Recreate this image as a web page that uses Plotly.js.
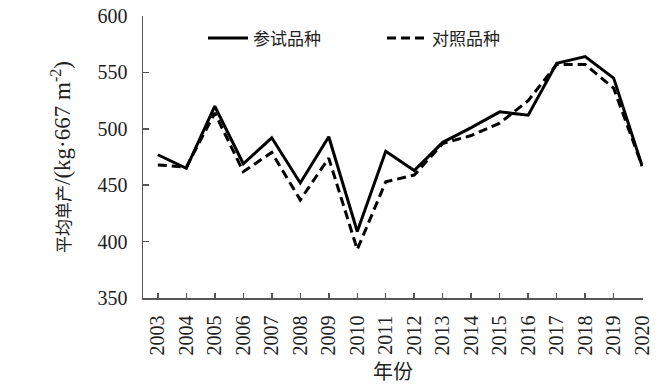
<!DOCTYPE html>
<html>
<head>
<meta charset="utf-8">
<script src="https://cdn.plot.ly/plotly-3.0.1.min.js"></script>
<style>html,body{margin:0;padding:0;background:#fff;}#chart{width:671px;height:386px;}</style>
</head>
<body>
<div id="chart"></div>
<script>
var years = [2003,2004,2005,2006,2007,2008,2009,2010,2011,2012,2013,2014,2015,2016,2017,2018,2019,2020];
var yearLabels = years.map(String);
var testYield = [477,465,520,469,492,452,493,409,480,463,488,501,515,512,558,564,545,467];
var controlYield = [468,466,514,462,479,437,474,393,453,459,487,494,505,525,557,557,536,467];
var seriesNames = ['参试品种','对照品种'];
var yTicks = [350,400,450,500,550,600];

var FONT = 'Liberation Serif, Times New Roman, Noto Sans CJK SC, serif';

var traces = [
  {x: years, y: testYield, name: seriesNames[0], type: 'scatter', mode: 'lines',
   line: {color: '#000', width: 3}},
  {x: years, y: controlYield, name: seriesNames[1], type: 'scatter', mode: 'lines',
   line: {color: '#000', width: 3, dash: '9px,5px'}}
];

var layout = {
  width: 671, height: 386,
  margin: {l: 143, r: 28, t: 16, b: 88},
  paper_bgcolor: '#fff', plot_bgcolor: '#fff',
  font: {family: FONT, color: '#222', size: 20},
  showlegend: true,
  legend: {orientation: 'h', x: 0.12, y: 0.92, xanchor: 'left', yanchor: 'middle',
           font: {family: 'Noto Sans CJK SC, sans-serif', size: 17, color: '#222'},
           bgcolor: 'rgba(0,0,0,0)', itemwidth: 40, tracegroupgap: 0, entrywidth: 124},
  xaxis: {
    range: [2002.48, 2020.03], tickmode: 'array', tickvals: years, ticktext: yearLabels,
    tickangle: -90, ticks: 'inside', ticklen: 5, tickwidth: 1.5, tickcolor: '#555',
    showline: true, linecolor: '#555', linewidth: 1.5, showgrid: false, zeroline: false,
    tickfont: {family: FONT, size: 20, color: '#222'},
    ticklabelstandoff: 8,
    title: {text: '年份', font: {family: 'Noto Sans CJK SC, sans-serif', size: 20, color: '#222'}, standoff: 6}
  },
  yaxis: {
    range: [350, 600], tickmode: 'array', tickvals: yTicks,
    ticks: 'inside', ticklen: 6, tickwidth: 1.5, tickcolor: '#555',
    showline: true, linecolor: '#555', linewidth: 1.5, showgrid: false, zeroline: false,
    tickfont: {family: FONT, size: 20, color: '#222'},
    ticklabelstandoff: 10,
    title: {text: '<span style="font-size:17px">平均单产</span>/(kg·667 m<sup>-2</sup>)\u00a0\u00a0',
            font: {family: FONT, size: 23, color: '#222'}, standoff: 20}
  }
};

Plotly.newPlot('chart', traces, layout, {displayModeBar: false, staticPlot: true});
</script>
</body>
</html>
